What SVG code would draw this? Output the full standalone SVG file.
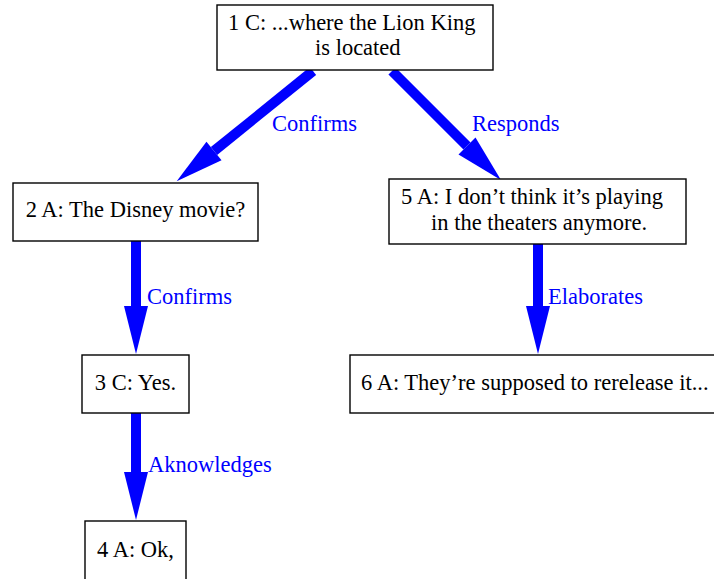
<svg xmlns="http://www.w3.org/2000/svg" width="714" height="579" viewBox="0 0 714 579">
  <style>
    .box { fill: #ffffff; stroke: #000000; stroke-width: 1.4; }
    .txt { font-family: "Liberation Serif", "Times New Roman", serif; font-size: 22.5px; fill: #000000; }
    .lbl { font-family: "Liberation Serif", "Times New Roman", serif; font-size: 22.5px; fill: #0000ff; }
    .edge { stroke: #0000ff; stroke-width: 10; fill: none; marker-end: url(#head); }
  </style>
  <defs>
    <marker id="head" markerUnits="userSpaceOnUse" markerWidth="50" markerHeight="26" refX="0" refY="12" orient="auto" overflow="visible">
      <path d="M0,0 L48,12 L0,24 z" fill="#0000ff"/>
    </marker>
  </defs>

  <rect x="0" y="0" width="714" height="579" fill="#ffffff"/>

  <g id="connectors">
    <line class="edge" x1="313" y1="71" x2="214" y2="151"/>
    <line class="edge" x1="392" y1="71" x2="467" y2="146"/>
    <line class="edge" x1="136" y1="241" x2="136" y2="306"/>
    <line class="edge" x1="136" y1="413" x2="136" y2="472"/>
    <line class="edge" x1="538" y1="244" x2="538" y2="306"/>
    <text class="lbl" x="272" y="131">Confirms</text>
    <text class="lbl" x="472" y="131">Responds</text>
    <text class="lbl" x="147" y="304">Confirms</text>
    <text class="lbl" x="548" y="304">Elaborates</text>
    <text class="lbl" x="148" y="472">Aknowledges</text>
  </g>

  <g id="n1">
    <rect class="box" x="217" y="5" width="276" height="65"/>
    <text class="txt" x="228" y="30">1 C: ...where the Lion King</text>
    <text class="txt" x="315" y="55">is located</text>
  </g>
  <g id="n2">
    <rect class="box" x="13" y="183" width="245" height="58"/>
    <text class="txt" x="135.5" y="217" text-anchor="middle">2 A: The Disney movie?</text>
  </g>
  <g id="n3">
    <rect class="box" x="82" y="355" width="107" height="58"/>
    <text class="txt" x="135.5" y="390" text-anchor="middle">3 C: Yes.</text>
  </g>
  <g id="n4">
    <rect class="box" x="85" y="521" width="101" height="64"/>
    <text class="txt" x="135.5" y="557" text-anchor="middle">4 A: Ok,</text>
  </g>
  <g id="n5">
    <rect class="box" x="389" y="179" width="297" height="65"/>
    <text class="txt" x="401" y="204">5 A: I don’t think it’s playing</text>
    <text class="txt" x="431" y="230">in the theaters anymore.</text>
  </g>
  <g id="n6">
    <rect class="box" x="350" y="355" width="374" height="58"/>
    <text class="txt" x="361" y="390">6 A: They’re supposed to rerelease it...</text>
  </g>
</svg>
